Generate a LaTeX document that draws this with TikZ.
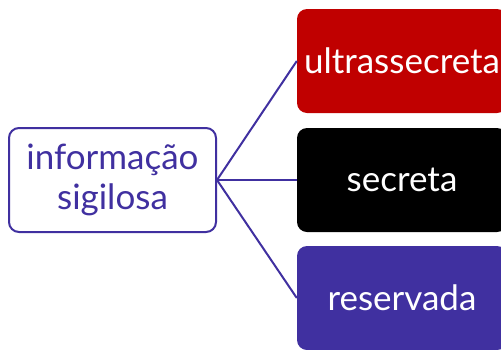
\documentclass[tikz,border=0pt]{standalone}
\usepackage{fontspec}
\setmainfont{Lato}
\definecolor{vio}{HTML}{4030A0}
\definecolor{redbox}{HTML}{C00000}
\begin{document}
\begin{tikzpicture}[x=1pt,y=-1pt,
  leftbox/.style={draw=vio,line width=2pt,rounded corners=10pt,fill=white,minimum width=207pt,minimum height=104pt,align=center,text=vio,font=\fontsize{35}{40}\selectfont,inner sep=0pt},
  rightbox/.style={rounded corners=10pt,minimum width=210pt,minimum height=104pt,text=white,font=\fontsize{35}{40}\selectfont,inner sep=0pt},
  conn/.style={draw=vio,line width=2pt}]
\useasboundingbox (0,0) rectangle (501,349);
\begin{scope}
\clip (0,0) rectangle (501,349);
\node[rightbox,fill=redbox] (r1) at (402,61) {ultrassecreta};
\node[rightbox,fill=black] (r2) at (402,180) {secreta};
\node[rightbox,fill=vio] (r3) at (402,298) {reservada};
\end{scope}
\node[leftbox] (l) at (112.5,180) {informação\\sigilosa};
\draw[conn] (l.east) -- (r1.west);
\draw[conn] (l.east) -- (r2.west);
\draw[conn] (l.east) -- (r3.west);
\end{tikzpicture}
\end{document}
